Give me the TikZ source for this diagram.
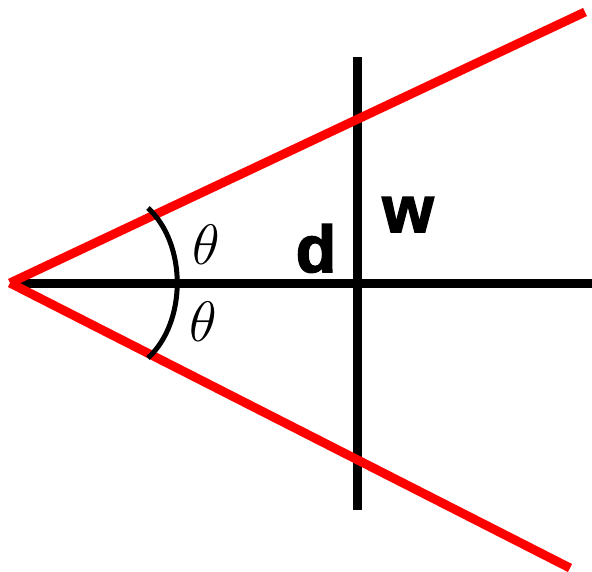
\RequirePackage{fix-cm}
\documentclass[tikz,border=0pt]{standalone}
\usepackage{fontspec}
\newfontfamily\heavyfont[FakeBold=2.5]{Liberation Sans Bold}
\begin{document}
\begin{tikzpicture}[x=1pt,y=-1pt,
  blackline/.style={draw=black,line width=9pt},
  redline/.style={draw=red,line width=9pt},
  arcline/.style={draw=black,line width=5pt},
  lbl/.style={inner sep=0pt,font=\fontsize{66}{66}\selectfont\heavyfont},
  ang/.style={inner sep=0pt,font=\fontsize{57}{57}\selectfont}]
\useasboundingbox (0,0) rectangle (592,571);
\coordinate (apex) at (10,283);
\coordinate (hend) at (592,283);
\coordinate (vtop) at (357,57);
\coordinate (vbot) at (357,510);
\coordinate (rtop) at (585,12);
\coordinate (rbot) at (570,568);
\coordinate (a1) at (148,208);
\coordinate (a2) at (148,358);
\draw[blackline] (apex) -- (hend);
\draw[blackline] (vtop) -- (vbot);
\draw[redline] (apex) -- (rtop);
\draw[redline] (apex) -- (rbot);
\draw[arcline] (a1) .. controls (187,244) and (187,322) .. (a2);
\node[ang] (t1) at (206,245) {$\theta$};
\node[ang] (t2) at (203,322) {$\theta$};
\node[lbl,anchor=base] (d) at (316,272) {d};
\node[lbl,anchor=base] (w) at (408,232) {w};
\end{tikzpicture}
\end{document}
